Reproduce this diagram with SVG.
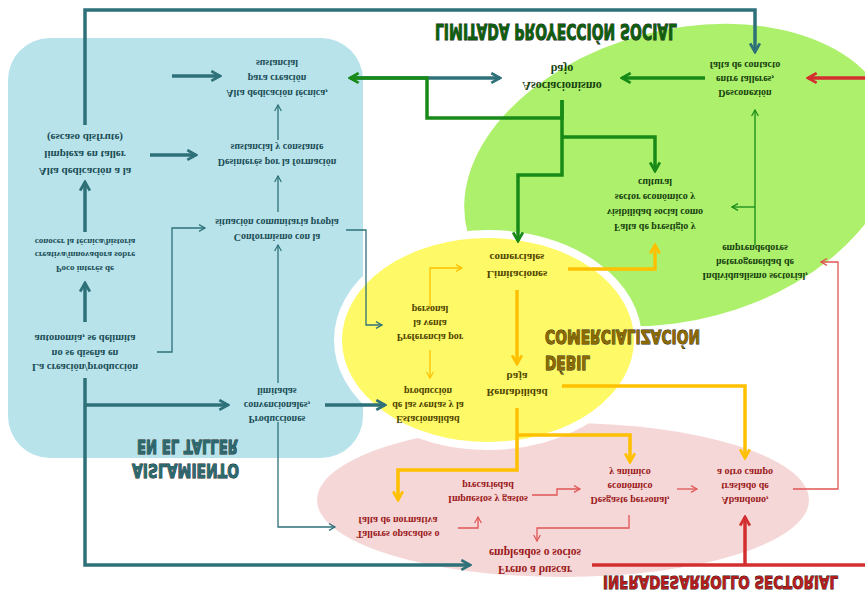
<svg xmlns="http://www.w3.org/2000/svg" width="865" height="595" viewBox="0 0 865 595">
<style>
.t{font-family:"Liberation Serif","DejaVu Serif",serif;font-weight:bold;text-anchor:middle}
.tb{fill:#1b4d55}.tg{fill:#17420f}.ty{fill:#4f4500}.tr{fill:#9a1b1b}
.ti{font-family:"Liberation Sans Narrow","DejaVu Sans Condensed","Liberation Sans",sans-serif;font-weight:bold;stroke:#1a1a1a;stroke-width:0.9;paint-order:stroke}
.c{fill:none}
.k{stroke:#2e7179;stroke-width:3.5}.k1{stroke:#2e7179;stroke-width:1.3}
.g{stroke:#178a17;stroke-width:3.5}.g1{stroke:#178a17;stroke-width:1.3}
.r{stroke:#d32f2f;stroke-width:3.5}.r1{stroke:#e05555;stroke-width:1.3}
.y{stroke:#ffc000;stroke-width:3.5}.y1{stroke:#ffc000;stroke-width:1.3}
</style>
<defs>
<marker id="aK" viewBox="0 0 12 12" refX="10" refY="6" markerWidth="13" markerHeight="13" markerUnits="userSpaceOnUse" orient="auto"><path d="M2,1.5 L10,6 L2,10.5" fill="none" stroke="#2e7179" stroke-width="2.6"/></marker>
<marker id="aK1" viewBox="0 0 12 12" refX="10" refY="6" markerWidth="9" markerHeight="9" markerUnits="userSpaceOnUse" orient="auto"><path d="M2,1.5 L10,6 L2,10.5" fill="none" stroke="#2e7179" stroke-width="1.6"/></marker>
<marker id="aG" viewBox="0 0 12 12" refX="10" refY="6" markerWidth="13" markerHeight="13" markerUnits="userSpaceOnUse" orient="auto"><path d="M2,1.5 L10,6 L2,10.5" fill="none" stroke="#178a17" stroke-width="2.6"/></marker>
<marker id="aG1" viewBox="0 0 12 12" refX="10" refY="6" markerWidth="9" markerHeight="9" markerUnits="userSpaceOnUse" orient="auto"><path d="M2,1.5 L10,6 L2,10.5" fill="none" stroke="#178a17" stroke-width="1.6"/></marker>
<marker id="aR" viewBox="0 0 12 12" refX="10" refY="6" markerWidth="13" markerHeight="13" markerUnits="userSpaceOnUse" orient="auto"><path d="M2,1.5 L10,6 L2,10.5" fill="none" stroke="#d32f2f" stroke-width="2.6"/></marker>
<marker id="aR1" viewBox="0 0 12 12" refX="10" refY="6" markerWidth="9" markerHeight="9" markerUnits="userSpaceOnUse" orient="auto"><path d="M2,1.5 L10,6 L2,10.5" fill="none" stroke="#e05555" stroke-width="1.6"/></marker>
<marker id="aY" viewBox="0 0 12 12" refX="10" refY="6" markerWidth="13" markerHeight="13" markerUnits="userSpaceOnUse" orient="auto"><path d="M2,1.5 L10,6 L2,10.5" fill="none" stroke="#ffc000" stroke-width="2.6"/></marker>
<marker id="aY1" viewBox="0 0 12 12" refX="10" refY="6" markerWidth="9" markerHeight="9" markerUnits="userSpaceOnUse" orient="auto"><path d="M2,1.5 L10,6 L2,10.5" fill="none" stroke="#ffc000" stroke-width="1.6"/></marker>
</defs>
<rect width="865" height="595" fill="#ffffff"/>
<g id="areas">
<rect x="8" y="38" width="355" height="420" rx="42" fill="#b8e3eb"/>
<ellipse cx="680" cy="175" rx="220" ry="145" transform="rotate(-15 680 175)" fill="#adf06b"/>
<ellipse cx="563" cy="500" rx="246" ry="77" fill="#f6d7d7"/>
<ellipse cx="488" cy="340" rx="150" ry="106" fill="#fef966" stroke="#ffffff" stroke-width="8"/>
</g>
<g id="titles">
<g transform="translate(0,64) scale(1,-1)"><text class="ti" x="435" y="40" font-size="22" fill="#0e5e0e" textLength="242" lengthAdjust="spacingAndGlyphs">LIMITADA PROYECCIÓN SOCIAL</text></g>
<g transform="translate(0,674) scale(1,-1)"><text class="ti" x="545" y="344" font-size="20" fill="#8c6a00" textLength="155" lengthAdjust="spacingAndGlyphs">COMERCIALIZACIÓN</text></g>
<g transform="translate(0,726) scale(1,-1)"><text class="ti" x="545" y="370" font-size="20" fill="#8c6a00" textLength="45" lengthAdjust="spacingAndGlyphs">DÉBIL</text></g>
<g transform="translate(0,894) scale(1,-1)"><text class="ti" x="137" y="454" font-size="20" fill="#2c6a70" textLength="101" lengthAdjust="spacingAndGlyphs">EN EL TALLER</text></g>
<g transform="translate(0,942) scale(1,-1)"><text class="ti" x="132" y="478" font-size="20" fill="#2c6a70" textLength="107" lengthAdjust="spacingAndGlyphs">AISLAMIENTO</text></g>
<g transform="translate(0,1164) scale(1,-1)"><text class="ti" x="603" y="588.5" font-size="18" fill="#b51d1d" textLength="235" lengthAdjust="spacingAndGlyphs">INFRADESARROLLO SECTORIAL</text></g>
</g>
<g id="connectors" class="c">
<path class="k" d="M85,125 V10 H755 V52" marker-end="url(#aK)"/>
<path class="k" d="M150,155 H196" marker-end="url(#aK)"/>
<path class="k" d="M172,76 H220" marker-end="url(#aK)"/>
<path class="k" d="M85,322 V283" marker-end="url(#aK)"/>
<path class="k" d="M85,232 V182" marker-end="url(#aK)"/>
<path class="k" d="M85,378 V565 H470" marker-end="url(#aK)"/>
<path class="k" d="M85,405 H228" marker-end="url(#aK)"/>
<path class="k" d="M325,405 H385" marker-end="url(#aK)"/>
<path class="k" d="M352,78 H500" marker-end="url(#aK)"/>
<path class="k1" d="M278,383 V245" marker-end="url(#aK1)"/>
<path class="k1" d="M278,212 V176" marker-end="url(#aK1)"/>
<path class="k1" d="M278,140 V105" marker-end="url(#aK1)"/>
<path class="k1" d="M157,352 H172 V228 H205" marker-end="url(#aK1)"/>
<path class="k1" d="M346,230 H366 V325 H382" marker-end="url(#aK1)"/>
<path class="k1" d="M278,422 V527 H335" marker-end="url(#aK1)"/>
<path class="g" d="M705,78 H622" marker-end="url(#aG)"/>
<path class="g" d="M562,100 V118 H427 V78 H350" marker-end="url(#aG)"/>
<path class="g" d="M562,100 V175 H518 V241" marker-end="url(#aG)"/>
<path class="g" d="M562,137 H655 V171" marker-end="url(#aG)"/>
<path class="g1" d="M755,245 V110" marker-end="url(#aG1)"/>
<path class="g1" d="M755,207 H732" marker-end="url(#aG1)"/>
<path class="r" d="M865,78 H808" marker-end="url(#aR)"/>
<path class="r" d="M865,565 H592"/>
<path class="r" d="M745,565 V517" marker-end="url(#aR)"/>
<path class="r1" d="M458,528 H478 V517" marker-end="url(#aR1)"/>
<path class="r1" d="M532,495 H557 V489 H580" marker-end="url(#aR1)"/>
<path class="r1" d="M677,489 H697" marker-end="url(#aR1)"/>
<path class="r1" d="M629,515 V528 H537 V541" marker-end="url(#aR1)"/>
<path class="r1" d="M793,489 H838 V262 H821" marker-end="url(#aR1)"/>
<path class="y" d="M568,269 H655 V245" marker-end="url(#aY)"/>
<path class="y" d="M517,290 V364" marker-end="url(#aY)"/>
<path class="y" d="M562,386 H745 V458" marker-end="url(#aY)"/>
<path class="y" d="M517,408 V470 H398 V500" marker-end="url(#aY)"/>
<path class="y" d="M517,435 H630 V462" marker-end="url(#aY)"/>
<path class="y1" d="M430,308 V268 H462" marker-end="url(#aY1)"/>
<path class="y1" d="M430,350 V378" marker-end="url(#aY1)"/>
</g>
<g id="n-left1" transform="translate(0,310) scale(1,-1)"><text class="t tb" font-size="11"><tspan x="85" y="141.6">Alta dedicación a la</tspan><tspan x="85" y="158.6">limpieza en taller</tspan><tspan x="85" y="175.6">(escaso disfrute)</tspan></text></g>
<g id="n-left2" transform="translate(0,510) scale(1,-1)"><text class="t tb" font-size="9"><tspan x="85" y="244.5">Poco interés de</tspan><tspan x="85" y="258">creativa/innovadora sobre</tspan><tspan x="85" y="271.5">conocer la técnica/historia</tspan></text></g>
<g id="n-left3" transform="translate(0,706) scale(1,-1)"><text class="t tb" font-size="10.5"><tspan x="85" y="342">La creación/producción</tspan><tspan x="85" y="356.5">no se diseña en</tspan><tspan x="85" y="371">autonomía, se delimita</tspan></text></g>
<g id="n-mid1" transform="translate(0,156) scale(1,-1)"><text class="t tb" font-size="10"><tspan x="277" y="66.3">Alta dedicación técnica,</tspan><tspan x="277" y="81.3">para creación</tspan><tspan x="277" y="96.3">sustancial</tspan></text></g>
<g id="n-mid2" transform="translate(0,310) scale(1,-1)"><text class="t tb" font-size="10"><tspan x="277" y="150.8">Desinterés por la formación</tspan><tspan x="277" y="165.8">sustancial y constante</tspan></text></g>
<g id="n-mid3" transform="translate(0,460) scale(1,-1)"><text class="t tb" font-size="10"><tspan x="277" y="225.8">Conformismo con la</tspan><tspan x="277" y="240.8">situación comunitaria propia</tspan></text></g>
<g id="n-mid4" transform="translate(0,810) scale(1,-1)"><text class="t tb" font-size="10"><tspan x="277" y="394.3">Producciones</tspan><tspan x="277" y="408.3">convencionales,</tspan><tspan x="277" y="422.3">limitadas</tspan></text></g>
<g id="n-g1" transform="translate(0,154) scale(1,-1)"><text class="t tg" font-size="12"><tspan x="562" y="72.5">Asociacionismo</tspan><tspan x="562" y="89.5">bajo</tspan></text></g>
<g id="n-g2" transform="translate(0,158) scale(1,-1)"><text class="t tg" font-size="10"><tspan x="745" y="68.3">Desconexión</tspan><tspan x="745" y="82.3">entre talleres,</tspan><tspan x="745" y="96.3">falta de contacto</tspan></text></g>
<g id="n-g3" transform="translate(0,410) scale(1,-1)"><text class="t tg" font-size="10"><tspan x="655" y="185.8">Falta de prestigio y</tspan><tspan x="655" y="200.8">visibilidad social como</tspan><tspan x="655" y="215.8">sector económico y</tspan><tspan x="655" y="230.8">cultural</tspan></text></g>
<g id="n-g4" transform="translate(0,524) scale(1,-1)"><text class="t tg" font-size="10"><tspan x="755" y="251.3">Individualismo sectorial,</tspan><tspan x="755" y="265.3">heterogeneidad de</tspan><tspan x="755" y="279.3">emprendedores</tspan></text></g>
<g id="n-y1" transform="translate(0,532) scale(1,-1)"><text class="t ty" font-size="11"><tspan x="517" y="261.1">Limitaciones</tspan><tspan x="517" y="278.1">comerciales</tspan></text></g>
<g id="n-y2" transform="translate(0,646) scale(1,-1)"><text class="t ty" font-size="10"><tspan x="430" y="312.3">Preferencia por</tspan><tspan x="430" y="326.3">la venta</tspan><tspan x="430" y="340.3">personal</tspan></text></g>
<g id="n-y3" transform="translate(0,810) scale(1,-1)"><text class="t ty" font-size="10"><tspan x="428" y="394.3">Estacionalidad</tspan><tspan x="428" y="408.3">de las ventas y la</tspan><tspan x="428" y="422.3">producción</tspan></text></g>
<g id="n-y4" transform="translate(0,770) scale(1,-1)"><text class="t ty" font-size="11"><tspan x="517" y="380.6">Rentabilidad</tspan><tspan x="517" y="396.6">baja</tspan></text></g>
<g id="n-r1" transform="translate(0,1054) scale(1,-1)"><text class="t tr" font-size="10"><tspan x="398" y="523.3">Talleres opacados o</tspan><tspan x="398" y="537.3">falta de normativa</tspan></text></g>
<g id="n-r2" transform="translate(0,984) scale(1,-1)"><text class="t tr" font-size="10"><tspan x="488" y="488.3">Impuestos y gastos</tspan><tspan x="488" y="502.3">precariedad</tspan></text></g>
<g id="n-r3" transform="translate(0,972) scale(1,-1)"><text class="t tr" font-size="10"><tspan x="630" y="475.3">Desgaste personal,</tspan><tspan x="630" y="489.3">económico</tspan><tspan x="630" y="503.3">y anímico</tspan></text></g>
<g id="n-r4" transform="translate(0,972) scale(1,-1)"><text class="t tr" font-size="10"><tspan x="745" y="475.3">Abandono,</tspan><tspan x="745" y="489.3">traslado de</tspan><tspan x="745" y="503.3">a otro campo</tspan></text></g>
<g id="n-r5" transform="translate(0,1122) scale(1,-1)"><text class="t tr" font-size="11.5"><tspan x="535" y="556.3">Freno a buscar</tspan><tspan x="535" y="573.3">empleados o socios</tspan></text></g>
</svg>
